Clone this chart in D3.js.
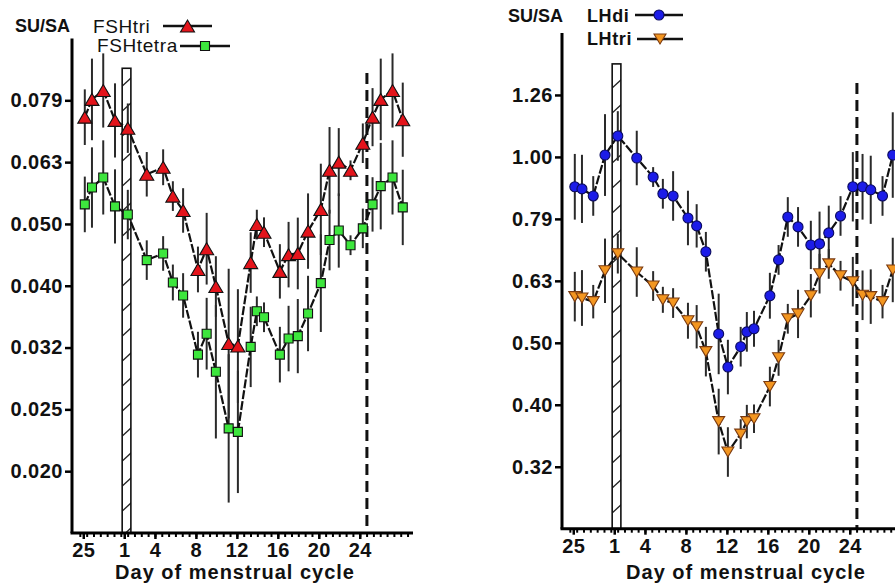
<!DOCTYPE html>
<html>
<head>
<meta charset="utf-8">
<script src="https://cdn.jsdelivr.net/npm/d3@7"></script>
<style>
  html, body { margin: 0; padding: 0; background: #fff; }
  svg { display: block; font-family: "Liberation Sans", Arial, sans-serif; }
</style>
</head>
<body>
<svg id="chart" width="895" height="585"></svg>
<script>
// Sampling position in the cycle (days). Days 25–28 of the preceding cycle sit at -3..0.
const cycleDay = [-2.85, -2.15, -1.05, 0.1, 1.35, 3.2, 4.8, 5.75, 6.75, 8.2, 9.05, 9.95,
  11.2, 12.1, 13.35, 13.95, 14.65, 16.2, 17.05, 17.95, 18.95, 20.2, 21.05, 21.95,
  23.1, 24.3, 25.25, 26.05, 27.2, 28.2];

// FSH isoforms, SU/SA ratio (geometric means) and log10 SEM
const fshTri = [0.0746, 0.0797, 0.0824, 0.0737, 0.0716, 0.0603, 0.0619, 0.0556, 0.0527, 0.0423,
  0.0457, 0.0397, 0.0321, 0.0318, 0.0434, 0.0500, 0.0486, 0.0420, 0.0447, 0.0449,
  0.0488, 0.0529, 0.0612, 0.0631, 0.0612, 0.0677, 0.0746, 0.0797, 0.0824, 0.0739];
const fshTriSem = [0.045, 0.066, 0.060, 0.060, 0.040, 0.036, 0.029, 0.024, 0.036, 0.037,
  0.058, 0.049, 0.121, 0.092, 0.049, 0.024, 0.024, 0.044, 0.053, 0.058,
  0.061, 0.074, 0.070, 0.055, 0.016, 0.032, 0.047, 0.066, 0.060, 0.060];
const fshTetra = [0.0539, 0.0574, 0.0596, 0.0535, 0.0519, 0.0438, 0.0449, 0.0403, 0.0384, 0.0308,
  0.0333, 0.0289, 0.0234, 0.0231, 0.0317, 0.0362, 0.0354, 0.0308, 0.0327, 0.0330,
  0.0359, 0.0402, 0.0472, 0.0489, 0.0463, 0.0493, 0.0539, 0.0577, 0.0596, 0.0533];
const fshTetraSem = [0.045, 0.065, 0.060, 0.060, 0.040, 0.032, 0.028, 0.029, 0.036, 0.037,
  0.058, 0.108, 0.120, 0.099, 0.065, 0.024, 0.024, 0.045, 0.053, 0.060,
  0.061, 0.079, 0.049, 0.060, 0.016, 0.032, 0.044, 0.070, 0.060, 0.061];

// LH isoforms, SU/SA ratio and log10 SEM
const lhDi = [0.895, 0.888, 0.865, 1.007, 1.081, 0.996, 0.928, 0.872, 0.865, 0.797,
  0.774, 0.703, 0.518, 0.458, 0.494, 0.522, 0.528, 0.597, 0.682, 0.800,
  0.771, 0.721, 0.724, 0.754, 0.803, 0.895, 0.895, 0.885, 0.865, 1.007];
const lhDiSem = [0.053, 0.055, 0.032, 0.066, 0.040, 0.044, 0.016, 0.024, 0.040, 0.044,
  0.035, 0.032, 0.065, 0.044, 0.032, 0.032, 0.029, 0.037, 0.024, 0.032,
  0.032, 0.039, 0.052, 0.044, 0.032, 0.056, 0.053, 0.055, 0.032, 0.069];
const lhTri = [0.595, 0.592, 0.584, 0.655, 0.698, 0.652, 0.619, 0.588, 0.581, 0.544,
  0.532, 0.485, 0.374, 0.334, 0.357, 0.374, 0.378, 0.426, 0.474, 0.548,
  0.558, 0.597, 0.648, 0.672, 0.643, 0.629, 0.598, 0.595, 0.584, 0.657];
const lhTriSem = [0.040, 0.045, 0.027, 0.052, 0.032, 0.040, 0.024, 0.021, 0.024, 0.029,
  0.035, 0.040, 0.053, 0.040, 0.024, 0.027, 0.023, 0.032, 0.029, 0.024,
  0.039, 0.035, 0.032, 0.024, 0.024, 0.040, 0.040, 0.044, 0.027, 0.052];

// Axis ticks
const xTickDays = [-3, 1, 4, 8, 12, 16, 20, 24];
const xTickLabels = ["25", "1", "4", "8", "12", "16", "20", "24"];
const fshTicks = [0.019953, 0.025119, 0.031623, 0.039811, 0.050119, 0.063096, 0.079433];
const fshTickLabels = ["0.020", "0.025", "0.032", "0.040", "0.050", "0.063", "0.079"];
const lhTicks = [0.31623, 0.39811, 0.50119, 0.63096, 0.79433, 1.0, 1.25893];
const lhTickLabels = ["0.32", "0.40", "0.50", "0.63", "0.79", "1.00", "1.26"];

// Menses bar (day 1) and ovulation marker (dashed line)
const mensesSpan = [0.8, 1.65];
const ovulationDay = 24.7;

const svg = d3.select("#chart");

const defs = svg.append("defs");
const hatch = defs.append("pattern")
  .attr("id", "hatch").attr("patternUnits", "userSpaceOnUse")
  .attr("width", 12).attr("height", 25);
hatch.append("rect").attr("width", 12).attr("height", 25).attr("fill", "#fff");
hatch.append("line").attr("x1", -1).attr("y1", 14).attr("x2", 12).attr("y2", 2)
  .attr("stroke", "#222").attr("stroke-width", 1.3);

const shapes = {
  triUp: (w, h) => `M0,${-h / 2}L${w / 2},${h / 2}L${-w / 2},${h / 2}Z`,
  triDown: (w, h) => `M0,${h / 2}L${w / 2},${-h / 2}L${-w / 2},${-h / 2}Z`,
  square: (w) => `M${-w / 2},${-w / 2}h${w}v${w}h${-w}Z`,
  circle: (w) => d3.arc()({ innerRadius: 0, outerRadius: w / 2, startAngle: 0, endAngle: 2 * Math.PI })
};

function drawMarker(g, spec, x, y) {
  g.append("path")
    .attr("transform", `translate(${x},${y})`)
    .attr("d", shapes[spec.shape](spec.w, spec.h))
    .attr("fill", spec.fill).attr("stroke", spec.stroke).attr("stroke-width", 1.1);
}

function drawPanel(cfg) {
  const g = svg.append("g");
  const x = d3.scaleLinear().domain([-4.1, 29.2]).range(cfg.xRange);
  const y = d3.scaleLog().domain(cfg.yDomain).range(cfg.yRange);

  // menses bar
  g.append("rect")
    .attr("x", x(mensesSpan[0])).attr("width", x(mensesSpan[1]) - x(mensesSpan[0]))
    .attr("y", y(cfg.barTop)).attr("height", cfg.yRange[0] - y(cfg.barTop))
    .attr("fill", "url(#hatch)").attr("stroke", "#111").attr("stroke-width", 1.6);

  // ovulation line
  g.append("line")
    .attr("x1", x(ovulationDay)).attr("x2", x(ovulationDay))
    .attr("y1", y(cfg.dashTop)).attr("y2", cfg.yRange[0])
    .attr("stroke", "#111").attr("stroke-width", 3).attr("stroke-dasharray", "11,6");

  cfg.series.forEach(s => {
    const pts = s.values.map((v, i) => ({ d: cycleDay[i], v, e: s.sem[i] }));
    // error bars
    g.append("g").selectAll("line").data(pts).join("line")
      .attr("x1", p => x(p.d)).attr("x2", p => x(p.d))
      .attr("y1", p => y(p.v * Math.pow(10, p.e))).attr("y2", p => y(p.v / Math.pow(10, p.e)))
      .attr("stroke", "#2a2a2a").attr("stroke-width", 2);
    // connecting line
    g.append("path").datum(pts)
      .attr("d", d3.line().x(p => x(p.d)).y(p => y(p.v)))
      .attr("fill", "none").attr("stroke", "#111").attr("stroke-width", 2.2)
      .attr("stroke-dasharray", "9,2");
  });
  cfg.series.forEach(s => {
    const mg = g.append("g");
    s.values.forEach((v, i) => drawMarker(mg, s, x(cycleDay[i]), y(v)));
  });

  // y axis
  const yAxis = g.append("g").attr("transform", `translate(${cfg.xRange[0]},0)`)
    .call(d3.axisLeft(y).tickValues(cfg.yTicks).tickFormat((d, i) => cfg.yTickLabels[i])
      .tickSize(7).tickPadding(2).tickSizeOuter(0));
  yAxis.select(".domain").attr("stroke-width", 3).attr("d", `M0,${cfg.yRange[1]}V${cfg.yRange[0]}`);
  yAxis.selectAll(".tick line").attr("stroke-width", 2.5);
  yAxis.selectAll("text").attr("font-size", 20).attr("font-weight", "bold")
    .attr("fill", "#111").attr("letter-spacing", 0.5).style("font-family", "Liberation Sans, Arial, sans-serif");

  // x axis: minor ticks then labelled major ticks
  const minor = d3.range(-4 + 2 / 3, 29.2, 2 / 3);
  const xMinor = g.append("g").attr("transform", `translate(0,${cfg.yRange[0]})`)
    .call(d3.axisBottom(x).tickValues(minor).tickFormat("").tickSize(4).tickSizeOuter(0));
  xMinor.select(".domain").remove();
  xMinor.selectAll(".tick line").attr("stroke-width", 2);
  const xAxis = g.append("g").attr("transform", `translate(0,${cfg.yRange[0]})`)
    .call(d3.axisBottom(x).tickValues(xTickDays).tickFormat((d, i) => xTickLabels[i])
      .tickSize(6).tickPadding(4).tickSizeOuter(0));
  xAxis.select(".domain").attr("stroke-width", 3)
    .attr("d", `M${cfg.xRange[0] - 1.5},0H${cfg.xRange[1]}`);
  xAxis.selectAll(".tick line").attr("stroke-width", 2.5);
  xAxis.selectAll("text").attr("font-size", 20).attr("font-weight", "bold")
    .attr("fill", "#111").attr("letter-spacing", 0.5).style("font-family", "Liberation Sans, Arial, sans-serif");

  // x-axis title
  g.append("text").attr("x", cfg.titleX).attr("y", 579).attr("text-anchor", "middle")
    .attr("font-size", 20).attr("font-weight", "bold").attr("letter-spacing", 1)
    .attr("fill", "#111").text("Day of menstrual cycle");

  // y-axis unit
  g.append("text").attr("x", cfg.unit[0]).attr("y", cfg.unit[1])
    .attr("font-size", 18).attr("font-weight", "bold").attr("fill", "#111").text("SU/SA");

  // legend
  cfg.legend.forEach(l => {
    const s = cfg.series[l.series];
    g.append("text").attr("x", l.tx).attr("y", l.ty)
      .attr("font-size", l.size).attr("font-weight", l.weight).attr("fill", "#111")
      .attr("letter-spacing", 0.6).text(l.label);
    g.append("line").attr("x1", l.x1).attr("x2", l.x2).attr("y1", l.ly).attr("y2", l.ly)
      .attr("stroke", "#111").attr("stroke-width", 2.5);
    drawMarker(g, s, (l.x1 + l.x2) / 2, l.ly);
  });
}

const triUpRed = { shape: "triUp", w: 14, h: 12, fill: "#e3141b", stroke: "#111" };
const squareGreen = { shape: "square", w: 9, h: 9, fill: "#3de63d", stroke: "#111" };
const circleBlue = { shape: "circle", w: 10, h: 10, fill: "#1c1ce8", stroke: "#0a0a60" };
const triDownOrange = { shape: "triDown", w: 12, h: 10, fill: "#f39620", stroke: "#7a3a10" };

drawPanel({
  xRange: [72, 413], yRange: [533, 38.5], yDomain: [0.015849, 0.1],
  yTicks: fshTicks, yTickLabels: fshTickLabels,
  barTop: 0.0895, dashTop: 0.0879, titleX: 235, unit: [15, 32],
  series: [
    Object.assign({ values: fshTri, sem: fshTriSem }, triUpRed),
    Object.assign({ values: fshTetra, sem: fshTetraSem }, squareGreen)
  ],
  legend: [
    { series: 0, label: "FSHtri", tx: 93, ty: 33, size: 19, weight: "normal", x1: 163, x2: 212, ly: 26 },
    { series: 1, label: "FSHtetra", tx: 97, ty: 52, size: 19, weight: "normal", x1: 180, x2: 230, ly: 46 }
  ]
});

drawPanel({
  xRange: [562, 903], yRange: [528.7, 33], yDomain: [0.251189, 1.584893],
  yTicks: lhTicks, yTickLabels: lhTickLabels,
  barTop: 1.413, dashTop: 1.316, titleX: 746, unit: [508, 22],
  series: [
    Object.assign({ values: lhDi, sem: lhDiSem }, circleBlue),
    Object.assign({ values: lhTri, sem: lhTriSem }, triDownOrange)
  ],
  legend: [
    { series: 0, label: "LHdi", tx: 587, ty: 22, size: 18, weight: "bold", x1: 635, x2: 683, ly: 15 },
    { series: 1, label: "LHtri", tx: 587, ty: 45, size: 18, weight: "bold", x1: 637, x2: 683, ly: 39 }
  ]
});
</script>
</body>
</html>
